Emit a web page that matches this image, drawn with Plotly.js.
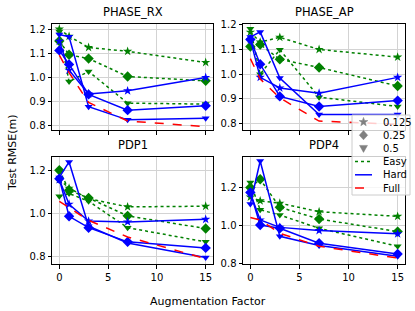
<!DOCTYPE html>
<html><head><meta charset="utf-8">
<script src="https://cdn.plot.ly/plotly-3.0.1.min.js"></script>
<style>html,body{margin:0;padding:0;background:#fff}#c{width:415px;height:311px}</style>
</head><body><div id="c"></div>
<script>
const factors = [0, 1, 3, 7, 15];
const panels = ['PHASE_RX', 'PHASE_AP', 'PDP1', 'PDP4'];
const ratios = ['0.125', '0.25', '0.5'];
const splits = ['Easy', 'Hard', 'Full'];
const markerSymbols = ['star', 'diamond', 'triangle-down'];

// PHASE_RX
const rx_easy_0125 = [1.20, 1.17, 1.124, 1.108, 1.062];
const rx_easy_025  = [1.151, 1.094, 1.078, 1.004, 0.986];
const rx_easy_05   = [1.19, 0.983, 1.025, 0.894, 0.890];
const rx_hard_0125 = [1.15, 1.03, 0.932, 0.945, 1.000];
const rx_hard_025  = [1.112, 1.054, 0.930, 0.865, 0.883];
const rx_hard_05   = [1.178, 1.168, 0.879, 0.825, 0.832];
const rx_full      = [1.092, 1.02, 0.897, 0.820, 0.797];
// PHASE_AP
const ap_easy_0125 = [1.17, 1.13, 1.149, 1.100, 1.069];
const ap_easy_025  = [1.112, 1.120, 1.060, 1.027, 0.952];
const ap_easy_05   = [1.184, 1.000, 1.099, 0.907, 0.869];
const ap_hard_0125 = [1.14, 0.987, 0.944, 0.923, 0.987];
const ap_hard_025  = [1.140, 1.040, 0.910, 0.869, 0.893];
const ap_hard_05   = [1.15, 1.171, 0.984, 0.837, 0.837];
const ap_full      = [1.063, 0.98, 0.904, 0.810, 0.797];
// PDP1
const p1_easy_0125 = [1.16, 1.12, 1.071, 1.033, 1.036];
const p1_easy_025  = [1.203, 1.110, 1.074, 0.991, 0.932];
const p1_easy_05   = [1.082, 1.095, 1.059, 0.936, 0.870];
const p1_hard_0125 = [1.16, 1.045, 0.967, 0.963, 0.975];
const p1_hard_025  = [1.164, 0.989, 0.936, 0.870, 0.842];
const p1_hard_05   = [1.17, 1.242, 0.943, 0.865, 0.797];
const p1_full      = [1.059, 1.03, 0.970, 0.893, 0.792];
// PDP4
const p4_easy_0125 = [1.15, 1.130, 1.118, 1.073, 1.049];
const p4_easy_025  = [1.20, 1.243, 1.096, 1.035, 0.969];
const p4_easy_05   = [1.226, 1.083, 1.056, 0.986, 0.892];
const p4_hard_0125 = [1.17, 1.03, 0.991, 0.974, 0.957];
const p4_hard_025  = [1.174, 1.003, 0.986, 0.908, 0.852];
const p4_hard_05   = [1.113, 1.339, 0.944, 0.896, 0.840];
const p4_full      = [1.043, 1.03, 0.960, 0.892, 0.830];

const panelData = [
  {easy: [rx_easy_0125, rx_easy_025, rx_easy_05], hard: [rx_hard_0125, rx_hard_025, rx_hard_05], full: rx_full},
  {easy: [ap_easy_0125, ap_easy_025, ap_easy_05], hard: [ap_hard_0125, ap_hard_025, ap_hard_05], full: ap_full},
  {easy: [p1_easy_0125, p1_easy_025, p1_easy_05], hard: [p1_hard_0125, p1_hard_025, p1_hard_05], full: p1_full},
  {easy: [p4_easy_0125, p4_easy_025, p4_easy_05], hard: [p4_hard_0125, p4_hard_025, p4_hard_05], full: p4_full},
];

const W = 415, H = 311;
const GREEN = '#008000', BLUE = '#0000ff', RED = '#ff0000', GREY = '#808080';
const FAM = 'DejaVu Sans, sans-serif';
const axNames = [['x', 'y'], ['x2', 'y2'], ['x3', 'y3'], ['x4', 'y4']];
const traces = [];
panelData.forEach((p, i) => {
  const [xa, ya] = axNames[i];
  p.easy.forEach((vals, k) => traces.push({
    x: factors, y: vals, xaxis: xa, yaxis: ya, mode: 'lines+markers', showlegend: false,
    line: {color: GREEN, width: 1.5, dash: 'dot'},
    marker: {symbol: markerSymbols[k], size: k === 1 ? 8 : 7, color: GREEN}
  }));
  p.hard.forEach((vals, k) => traces.push({
    x: factors, y: vals, xaxis: xa, yaxis: ya, mode: 'lines+markers', showlegend: false,
    line: {color: BLUE, width: 1.5},
    marker: {symbol: markerSymbols[k], size: k === 1 ? 8 : 7, color: BLUE}
  }));
  traces.push({x: factors, y: p.full, xaxis: xa, yaxis: ya, mode: 'lines', showlegend: false,
    line: {color: RED, width: 1.5, dash: 'dash'}});
});

const colX = [[52 / W, 213 / W], [243 / W, 405 / W]];
const rowY = [[1 - 130 / H, 1 - 24 / H], [1 - 264 / H, 1 - 157 / H]];
const yRanges = [[0.783, 1.221], [0.774, 1.203], [0.767, 1.265], [0.799, 1.36]];
const yDt = [0.1, 0.1, 0.2, 0.2];
const font = {family: FAM, size: 10, color: '#000'};

const layout = {
  width: W, height: H, margin: {l: 0, r: 0, t: 0, b: 0},
  paper_bgcolor: '#fff', plot_bgcolor: '#fff', font: font,
  showlegend: false, annotations: [], shapes: []
};
for (let i = 0; i < 4; i++) {
  const col = i % 2, row = Math.floor(i / 2);
  const sx = i === 0 ? '' : String(i + 1);
  layout['xaxis' + sx] = {domain: colX[col], anchor: 'y' + sx, range: [-0.75, 15.75],
    tickvals: [0, 5, 10, 15], showticklabels: row === 1, ticks: 'outside', ticklen: 3.5, tickcolor: '#000',
    showgrid: true, gridcolor: '#d3d3d3', gridwidth: 1, zeroline: false,
    showline: true, mirror: true, linecolor: '#000', linewidth: 1, tickfont: font};
  layout['yaxis' + sx] = {domain: rowY[row], anchor: 'x' + sx, range: yRanges[i],
    dtick: yDt[i], tick0: 0, tickformat: '.1f', ticks: 'outside', ticklen: 3.5, tickcolor: '#000',
    showgrid: true, gridcolor: '#d3d3d3', gridwidth: 1, zeroline: false,
    showline: true, mirror: true, linecolor: '#000', linewidth: 1, tickfont: font};
  const cx = (colX[col][0] + colX[col][1]) / 2;
  layout.annotations.push({text: panels[i], xref: 'paper', yref: 'paper', x: cx,
    y: rowY[row][1] + 3 / H, xanchor: 'center', yanchor: 'bottom', showarrow: false,
    font: {family: FAM, size: 11.5, color: '#000'}});
}
layout.annotations.push({text: 'Test RMSE(m)', xref: 'paper', yref: 'paper', x: 12 / W, y: 1 - 153 / H,
  xanchor: 'center', yanchor: 'middle', textangle: -90, showarrow: false,
  font: {family: FAM, size: 11, color: '#000'}});
layout.annotations.push({text: 'Augmentation Factor', xref: 'paper', yref: 'paper', x: 0.5, y: 1 - 301 / H,
  xanchor: 'center', yanchor: 'middle', showarrow: false,
  font: {family: FAM, size: 11, color: '#000'}});

// ---- figure legend (matplotlib-style, drawn as shapes + text) ----
function markerPath(sym) {
  let pts = [];
  if (sym === 'star') {
    for (let k = 0; k < 10; k++) {
      const a = Math.PI / 2 + k * Math.PI / 5, r = k % 2 ? 1.9 : 4.6;
      pts.push([r * Math.cos(a), r * Math.sin(a)]);
    }
  } else if (sym === 'diamond') {
    pts = [[0, 4.6], [4.2, 0], [0, -4.6], [-4.2, 0]];
  } else {
    pts = [[-4, 3], [4, 3], [0, -4]];
  }
  return 'M' + pts.map(p => p[0].toFixed(2) + ',' + p[1].toFixed(2)).join('L') + 'Z';
}
const legBox = {x0: 352, x1: 410, y0: 115, y1: 195};
layout.shapes.push({type: 'rect', xref: 'paper', yref: 'paper', layer: 'above',
  x0: legBox.x0 / W, x1: legBox.x1 / W, y0: 1 - legBox.y1 / H, y1: 1 - legBox.y0 / H,
  fillcolor: 'rgba(255,255,255,0.8)', line: {color: '#cccccc', width: 1}});
const legendItems = [
  ...ratios.map((r, k) => ({label: r, sym: markerSymbols[k]})),
  {label: splits[0], color: GREEN, dash: 'dot'},
  {label: splits[1], color: BLUE, dash: 'solid'},
  {label: splits[2], color: RED, dash: 'dash'}
];
legendItems.forEach((it, k) => {
  const yy = 122 + 13.2 * k;
  if (it.sym) {
    layout.shapes.push({type: 'path', layer: 'above', xref: 'paper', yref: 'paper',
      xsizemode: 'pixel', ysizemode: 'pixel', xanchor: 363.5 / W, yanchor: 1 - yy / H,
      path: markerPath(it.sym), fillcolor: GREY, line: {color: GREY, width: 0.5}});
  } else {
    layout.shapes.push({type: 'line', layer: 'above', xref: 'paper', yref: 'paper',
      x0: 355 / W, x1: 372 / W, y0: 1 - yy / H, y1: 1 - yy / H,
      line: {color: it.color, width: 1.5, dash: it.dash}});
  }
  layout.annotations.push({text: it.label, xref: 'paper', yref: 'paper', x: 381 / W, y: 1 - yy / H,
    xanchor: 'left', yanchor: 'middle', showarrow: false, font: {family: FAM, size: 10, color: '#000'}});
});

Plotly.newPlot('c', traces, layout, {displayModeBar: false, staticPlot: true});
</script></body></html>
